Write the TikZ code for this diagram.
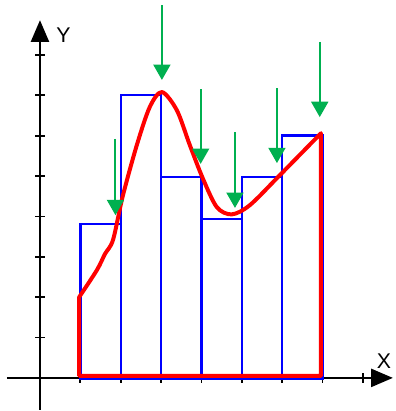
\documentclass[tikz,border=0pt]{standalone}
\usepackage{fontspec}
\setmainfont{Liberation Sans}
\usetikzlibrary{arrows.meta}
\definecolor{hintgreen}{RGB}{0,176,80}
\begin{document}
\begin{tikzpicture}[
    axis/.style={line width=1.4pt, -{Triangle[length=0.54cm, width=0.45cm]}},
    tick/.style={line width=1.2pt},
    bar/.style={draw=blue, line width=1.7pt},
    curve/.style={draw=red, line width=2.8pt, line join=round},
    hint/.style={draw=hintgreen, line width=1.4pt, -{Triangle[length=0.38cm, width=0.42cm]}},
    every node/.style={font=\fontsize{15}{18}\selectfont}
]
\useasboundingbox (-0.99,-0.82) rectangle (8.81,9.36);

% axes
\coordinate (xstart) at (-0.82,0);
\coordinate (xend) at (8.74,0);
\coordinate (ystart) at (0,-0.79);
\coordinate (yend) at (0,8.86);
\draw[axis] (xstart) -- (xend);
\draw[axis] (ystart) -- (yend);
\node[anchor=west] (ylabel) at (0.28,8.5) {Y};
\node[anchor=south] (xlabel) at (8.52,0.12) {X};
\foreach \k in {1,...,8} {
    \draw[tick] (\k,-0.12) -- (\k,0.12);
    \draw[tick] (-0.12,\k) -- (0.12,\k);
}

% bars
\foreach \left/\top in {1/3.81, 2/7.0, 3/4.97, 4/3.93, 5/4.97, 6/6.0} {
    \draw[bar] (\left,-0.03) rectangle (\left+1,\top);
}

% function
\draw[curve] (0.97,0.05) -- (0.97,2.0)
    -- plot[smooth, tension=0.5] coordinates {(0.97,2.0) (1.41,2.67) (1.61,3.07)
        (1.81,3.42) (2.05,4.5) (2.4,5.77) (2.72,6.71) (3.02,7.08) (3.39,6.63)
        (3.71,5.77) (4.03,4.95) (4.38,4.23) (4.75,4.05) (5.2,4.28) (5.94,5.02)
        (6.96,6.06)}
    -- (6.96,0.05) -- cycle;

% sample points
\foreach \x/\from/\to in {1.87/5.92/4.03, 3.02/9.23/7.38, 3.98/7.15/5.30,
                          4.83/6.09/4.21, 5.87/7.18/5.32, 6.93/8.32/6.46} {
    \draw[hint] (\x,\from) -- (\x,\to);
}
\end{tikzpicture}
\end{document}
